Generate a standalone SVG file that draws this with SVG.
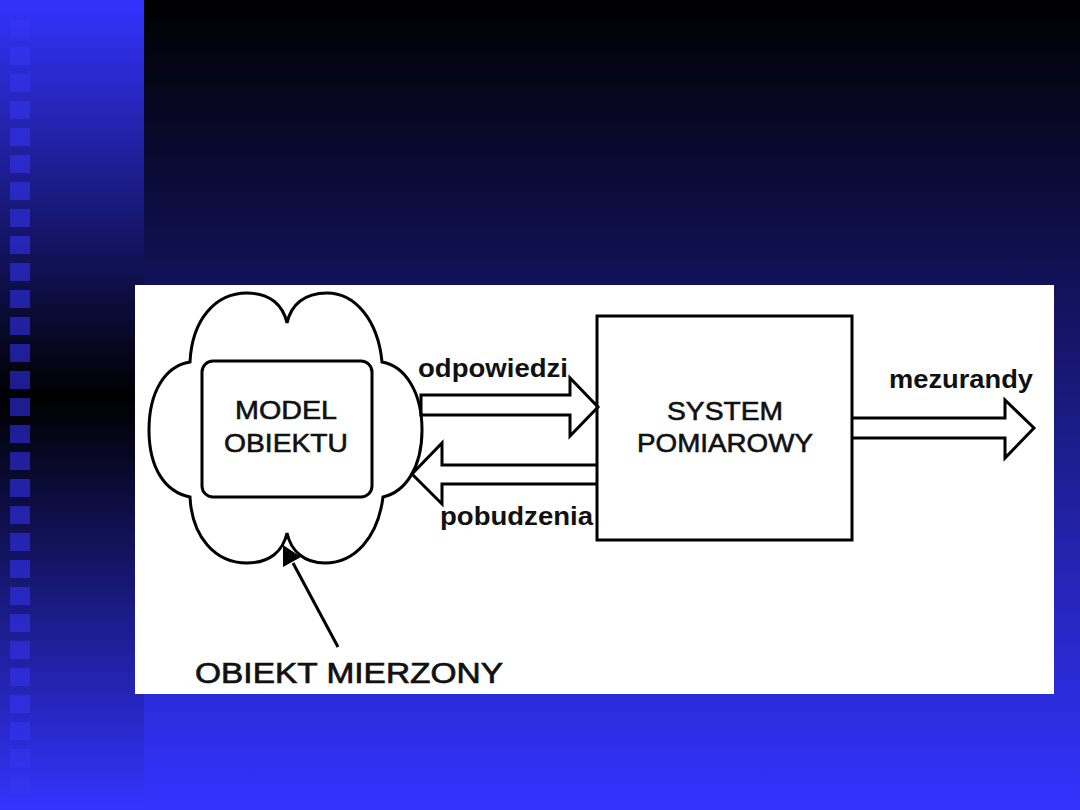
<svg xmlns="http://www.w3.org/2000/svg" width="1080" height="810" viewBox="0 0 1080 810">
<defs>
<linearGradient id="gMain" x1="0" y1="0" x2="0" y2="810" gradientUnits="userSpaceOnUse">
<stop offset="0" stop-color="#000000"/>
<stop offset="1" stop-color="#3333ff"/>
</linearGradient>
<linearGradient id="gSide" x1="0" y1="0" x2="0" y2="810" gradientUnits="userSpaceOnUse">
<stop offset="0" stop-color="#3333ff"/>
<stop offset="0.49" stop-color="#000000"/>
<stop offset="1" stop-color="#3333ff"/>
</linearGradient>
<linearGradient id="gSq" x1="0" y1="0" x2="0" y2="810" gradientUnits="userSpaceOnUse">
<stop offset="0" stop-color="#3434f6"/>
<stop offset="0.49" stop-color="#1c1c8e"/>
<stop offset="1" stop-color="#3434f6"/>
</linearGradient>
<style>
.sq{fill:url(#gSq)}
.ln{fill:none;stroke:#000;stroke-width:3;stroke-linejoin:miter}
.hollow{fill:#fff;stroke:#000;stroke-width:3;stroke-linejoin:miter}
.big{font-family:"Liberation Sans",Arial,sans-serif;font-size:26px;fill:#111;stroke:#111;stroke-width:0.6;text-anchor:middle}
.lab{font-family:"Liberation Sans",Arial,sans-serif;font-size:26px;font-weight:bold;fill:#111}
.cap{font-family:"Liberation Sans",Arial,sans-serif;font-size:29px;fill:#111;stroke:#111;stroke-width:0.7}
</style>
</defs>
<g id="background">
<rect x="0" y="0" width="1080" height="810" fill="url(#gMain)"/>
<rect x="0" y="0" width="144" height="810" fill="url(#gSide)"/>
<g id="squares">
<rect class="sq" x="10" y="20" width="20" height="18"/>
<rect class="sq" x="10" y="47" width="20" height="18"/>
<rect class="sq" x="10" y="74" width="20" height="18"/>
<rect class="sq" x="10" y="101" width="20" height="18"/>
<rect class="sq" x="10" y="128" width="20" height="18"/>
<rect class="sq" x="10" y="155" width="20" height="18"/>
<rect class="sq" x="10" y="182" width="20" height="18"/>
<rect class="sq" x="10" y="209" width="20" height="18"/>
<rect class="sq" x="10" y="236" width="20" height="18"/>
<rect class="sq" x="10" y="263" width="20" height="18"/>
<rect class="sq" x="10" y="290" width="20" height="18"/>
<rect class="sq" x="10" y="317" width="20" height="18"/>
<rect class="sq" x="10" y="344" width="20" height="18"/>
<rect class="sq" x="10" y="371" width="20" height="18"/>
<rect class="sq" x="10" y="398" width="20" height="18"/>
<rect class="sq" x="10" y="425" width="20" height="18"/>
<rect class="sq" x="10" y="452" width="20" height="18"/>
<rect class="sq" x="10" y="479" width="20" height="18"/>
<rect class="sq" x="10" y="506" width="20" height="18"/>
<rect class="sq" x="10" y="533" width="20" height="18"/>
<rect class="sq" x="10" y="560" width="20" height="18"/>
<rect class="sq" x="10" y="587" width="20" height="18"/>
<rect class="sq" x="10" y="614" width="20" height="18"/>
<rect class="sq" x="10" y="641" width="20" height="18"/>
<rect class="sq" x="10" y="668" width="20" height="18"/>
<rect class="sq" x="10" y="695" width="20" height="18"/>
<rect class="sq" x="10" y="722" width="20" height="18"/>
<rect class="sq" x="10" y="749" width="20" height="18"/>
<rect class="sq" x="10" y="776" width="20" height="18"/>
</g>
<rect x="135" y="285" width="919" height="409" fill="#ffffff"/>
</g>
<g id="connectors">
<polygon class="hollow" points="421,395 570,395 570,378 598,407 570,436 570,415 421,415"/>
<polyline class="hollow" points="597,465 442,465 442,443 412,474 442,504 442,484 597,484"/>
<polyline class="hollow" points="852,418 1005,418 1005,400 1034,428 1005,458 1005,438 852,438"/>
<line x1="338" y1="647" x2="293" y2="563" stroke="#000" stroke-width="3"/>
<polygon points="283,545 283,567 301,557" fill="#000"/>
</g>
<g id="node-obiekt">
<path class="ln" d="M190,362 C192,320 215,293 247,293 C270,293 283,305 287,323 C291,305 304,293 327,293 C355,293 378,320 382,362 C405,366 422,392 422,430 C422,468 405,492 383,497 C378,537 355,563 325,563 C304,563 291,551 287,533 C283,551 270,563 247,563 C215,563 192,537 190,497 C165,492 149,468 149,430 C149,392 165,366 190,362 Z"/>
<text class="cap" x="195" y="683" textLength="308" lengthAdjust="spacingAndGlyphs">OBIEKT MIERZONY</text>
</g>
<g id="node-model">
<rect class="ln" x="202" y="361" width="170" height="136" rx="11" ry="11"/>
<text class="big" x="286" y="419" textLength="102" lengthAdjust="spacingAndGlyphs">MODEL</text>
<text class="big" x="286" y="452" textLength="124" lengthAdjust="spacingAndGlyphs">OBIEKTU</text>
</g>
<g id="node-system">
<rect class="ln" x="597" y="316" width="255" height="224"/>
<text class="big" x="725" y="420" textLength="116" lengthAdjust="spacingAndGlyphs">SYSTEM</text>
<text class="big" x="725" y="452" textLength="176" lengthAdjust="spacingAndGlyphs">POMIAROWY</text>
</g>
<g id="labels">
<text class="lab" x="418" y="377" textLength="150" lengthAdjust="spacingAndGlyphs">odpowiedzi</text>
<text class="lab" x="440" y="525" textLength="153" lengthAdjust="spacingAndGlyphs">pobudzenia</text>
<text class="lab" x="889" y="388" textLength="144" lengthAdjust="spacingAndGlyphs">mezurandy</text>
</g>
</svg>
